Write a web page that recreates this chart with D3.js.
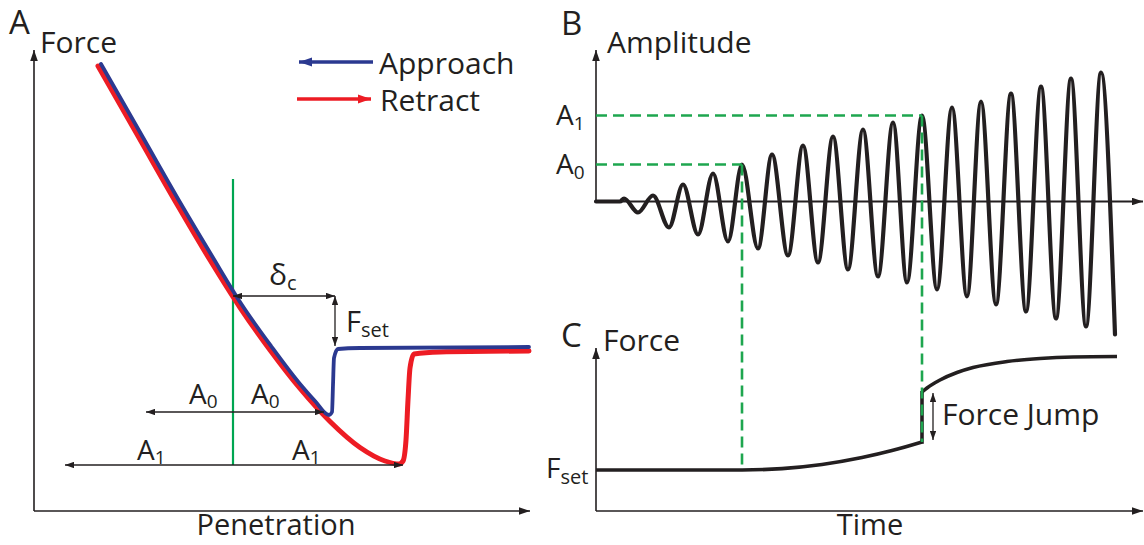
<!DOCTYPE html>
<html><head><meta charset="utf-8">
<script src="https://cdn.jsdelivr.net/npm/d3@7"></script>
<style>
body{margin:0;background:#fff}
svg{display:block}
text{font-family:"Open Sans",sans-serif;fill:#231f20}
</style>
</head><body>
<svg id="chart" width="1144" height="545"></svg>
<script>
// ---------- Panel A: force vs penetration (arbitrary units) ----------
const retractPen   = [64,104,144,176,206,236,266,296,326,351,365,369,372,374,376,380,406,495];
const retractForce = [445,375,305,251,203.5,161,122.5,89.5,63.5,50,47,50,71,111,143,157,159,160];
const approachPen   = [67,107,147,178,208,237,266,281,295,298,299,300,304,326,495];
const approachForce = [447,377,307,255,206,165,127,110,96,99,126,153,162,163,164];
const contactPen = 199;          // green line (indentation origin)
const fsetPenA = 301, fsetForceA = 165, deltaForce = 215;
const a0Force = 99, a0Left = 112, a0Right = 290;
const a1Force = 46, a1Left = 31, a1Right = 369;
const legendLabels = ["Approach", "Retract"];

// ---------- Panel B: oscillation amplitude vs time ----------
const waveTime = [0,24,28,42,57,73,87,102,117,132,146,162,176,192,207,222,237,252,267,282,297,311,326,341,356,371,385,400,415,430,445,460,475,490,505,519];
const waveAmp  = [0,0,3,-11,6,-26,17,-33,28,-40,37,-47,47,-54,56,-61,65,-68,72,-75,79,-81,86,-88,94,-95,100,-103,108,-110,115,-117,123,-125,129,-133];
const ampLevels = [{name:"A", sub:"0", value:37, time:146}, {name:"A", sub:"1", value:86, time:326}];

// ---------- Panel C: force vs time ----------
const fset = 41;
const preJumpTime  = [0,146,186,226,266,296,326];
const preJumpForce = [41,41,42.4,46.5,53.4,60.4,69];
const postJumpTime  = [326,331,344,361,377,411,444,477,521];
const postJumpForce = [119,123,131,138.5,143.5,149.5,152.5,154,154.5];

const svg = d3.select("#chart");
const defs = svg.append("defs");
function marker(id, color, len, hw) {
  defs.append("marker").attr("id", id).attr("markerUnits", "userSpaceOnUse")
    .attr("viewBox", `0 0 ${len} ${2*hw}`).attr("refX", len).attr("refY", hw)
    .attr("markerWidth", len).attr("markerHeight", 2*hw).attr("orient", "auto-start-reverse")
    .append("path").attr("d", `M0,0L${len},${hw}L0,${2*hw}Z`).attr("fill", color);
}
marker("axArrow", "#231f20", 11, 3.8);
marker("dimArrow", "#231f20", 9, 3.2);
marker("blueArrow", "#2b3990", 13, 4.6);
marker("redArrow", "#ed1c24", 13, 4.6);

const BLACK = "#231f20", BLUE = "#2b3990", RED = "#ed1c24", GREEN = "#00a651", GDASH = "#1ea64f";

function subText(x, y, main, sub, size, subSize, dy, anchor) {
  const t = svg.append("text").attr("x", x).attr("y", y).attr("font-size", size);
  if (anchor) t.attr("text-anchor", anchor);
  t.append("tspan").text(main);
  t.append("tspan").attr("font-size", subSize).attr("dy", dy).text(sub);
  return t;
}
function seg(x1, y1, x2, y2) {
  return svg.append("line").attr("x1", x1).attr("y1", y1).attr("x2", x2).attr("y2", y2);
}

// ===== Panel A =====
const xA = d3.scaleLinear().domain([0, 496]).range([34, 530]);
const yA = d3.scaleLinear().domain([0, 461]).range([511, 50]);

seg(xA(0), yA(0), xA(0), yA(461)).attr("stroke", BLACK).attr("stroke-width", 1.6).attr("marker-end", "url(#axArrow)");
seg(xA(0), yA(0), xA(496), yA(0)).attr("stroke", BLACK).attr("stroke-width", 1.6).attr("marker-end", "url(#axArrow)");

svg.append("text").attr("x", 9).attr("y", 34).attr("font-size", 33).text("A");
svg.append("text").attr("x", 40).attr("y", 53).attr("font-size", 30).text("Force");
svg.append("text").attr("x", 276).attr("y", 535).attr("font-size", 29).attr("text-anchor", "middle").text("Penetration");

// green contact line
seg(xA(contactPen), yA(a1Force), xA(contactPen), yA(332)).attr("stroke", GREEN).attr("stroke-width", 2.2);

const lineA = d3.line().x(d => xA(d[0])).y(d => yA(d[1])).curve(d3.curveMonotoneX);
svg.append("path").attr("d", lineA(d3.zip(retractPen, retractForce)))
  .attr("fill", "none").attr("stroke", RED).attr("stroke-width", 5).attr("stroke-linejoin", "round").attr("stroke-linecap", "round");
svg.append("path").attr("d", lineA(d3.zip(approachPen, approachForce)))
  .attr("fill", "none").attr("stroke", BLUE).attr("stroke-width", 3.8).attr("stroke-linejoin", "round").attr("stroke-linecap", "round");

// dimension arrows
function dim(x1, y1, x2, y2) {
  seg(x1, y1, x2, y2).attr("stroke", BLACK).attr("stroke-width", 1.3)
    .attr("marker-start", "url(#dimArrow)").attr("marker-end", "url(#dimArrow)");
}
dim(xA(contactPen), yA(deltaForce), xA(fsetPenA), yA(deltaForce));
dim(xA(fsetPenA), yA(deltaForce), xA(fsetPenA), yA(fsetForceA));
dim(xA(a0Left), yA(a0Force), xA(a0Right), yA(a0Force));
dim(xA(a1Left), yA(a1Force), xA(a1Right), yA(a1Force));

subText(269, 285, "δ", "c", 30, 20, 5);
subText(346, 332, "F", "set", 29, 20, 5);
subText(189, 404, "A", "0", 28, 19, 4);
subText(251, 404, "A", "0", 28, 19, 4);
subText(137, 460, "A", "1", 28, 19, 4);
subText(292, 460, "A", "1", 28, 19, 4);

// legend
seg(373, 62, 299, 62).attr("stroke", BLUE).attr("stroke-width", 3.5).attr("marker-end", "url(#blueArrow)");
seg(297, 99, 371, 99).attr("stroke", RED).attr("stroke-width", 3.5).attr("marker-end", "url(#redArrow)");
svg.append("text").attr("x", 379).attr("y", 74).attr("font-size", 30).text(legendLabels[0]);
svg.append("text").attr("x", 380).attr("y", 111).attr("font-size", 30).text(legendLabels[1]);

// ===== Panel B =====
const xT = d3.scaleLinear().domain([0, 547]).range([596, 1143]);
const yB = d3.scaleLinear().domain([-150, 150]).range([351.5, 51.5]);
const yC = d3.scaleLinear().domain([0, 160]).range([511, 351]);

svg.append("text").attr("x", 561).attr("y", 35).attr("font-size", 33).text("B");
svg.append("text").attr("x", 607).attr("y", 53).attr("font-size", 30).text("Amplitude");

seg(xT(0), yB(0), xT(0), yB(151.5)).attr("stroke", BLACK).attr("stroke-width", 1.6).attr("marker-end", "url(#axArrow)");

const lineB = d3.line().x(d => xT(d[0])).y(d => yB(d[1])).curve(d3.curveMonotoneX);
svg.append("path").attr("d", lineB(d3.zip(waveTime, waveAmp)))
  .attr("fill", "none").attr("stroke", BLACK).attr("stroke-width", 4.2).attr("stroke-linejoin", "round").attr("stroke-linecap", "round");
seg(xT(0), yB(0), xT(547), yB(0)).attr("stroke", BLACK).attr("stroke-width", 1.8).attr("marker-end", "url(#axArrow)");

ampLevels.forEach(l => {
  seg(xT(0), yB(l.value), xT(l.time), yB(l.value)).attr("stroke", GDASH).attr("stroke-width", 2.6).attr("stroke-dasharray", "11,6");
  subText(556, yB(l.value) + 9, l.name, l.sub, 28, 19, 5);
});

// ===== Panel C =====
svg.append("text").attr("x", 561).attr("y", 347).attr("font-size", 33).text("C");
svg.append("text").attr("x", 603).attr("y", 351).attr("font-size", 30).text("Force");

seg(xT(0), yC(0), xT(0), yC(163)).attr("stroke", BLACK).attr("stroke-width", 1.6).attr("marker-end", "url(#axArrow)");
seg(xT(0), yC(0), xT(547), yC(0)).attr("stroke", BLACK).attr("stroke-width", 1.6).attr("marker-end", "url(#axArrow)");

const lineC = d3.line().x(d => xT(d[0])).y(d => yC(d[1])).curve(d3.curveMonotoneX);
const cStyle = p => p.attr("fill", "none").attr("stroke", BLACK).attr("stroke-width", 3.6).attr("stroke-linecap", "butt");
cStyle(svg.append("path").attr("d", lineC(d3.zip(preJumpTime, preJumpForce))));
cStyle(seg(xT(preJumpTime[preJumpTime.length-1]), yC(preJumpForce[preJumpForce.length-1]) + 1.8,
           xT(postJumpTime[0]), yC(postJumpForce[0]) - 1));
cStyle(svg.append("path").attr("d", lineC(d3.zip(postJumpTime, postJumpForce))));

subText(546, yC(fset) + 8, "F", "set", 28, 20, 6);
svg.append("text").attr("x", 942).attr("y", 425).attr("font-size", 30).text("Force Jump");
svg.append("text").attr("x", 870).attr("y", 535).attr("font-size", 29).attr("text-anchor", "middle").text("Time");
dim(xT(337), yC(118), xT(337), yC(71));

// green dashed connectors between B and C
seg(xT(ampLevels[0].time), yB(ampLevels[0].value), xT(ampLevels[0].time), yC(fset))
  .attr("stroke", GDASH).attr("stroke-width", 2.6).attr("stroke-dasharray", "11,6");
seg(xT(ampLevels[1].time), yB(ampLevels[1].value), xT(ampLevels[1].time), yC(preJumpForce[preJumpForce.length-1]))
  .attr("stroke", GDASH).attr("stroke-width", 2.6).attr("stroke-dasharray", "11,6");
</script>
</body></html>
